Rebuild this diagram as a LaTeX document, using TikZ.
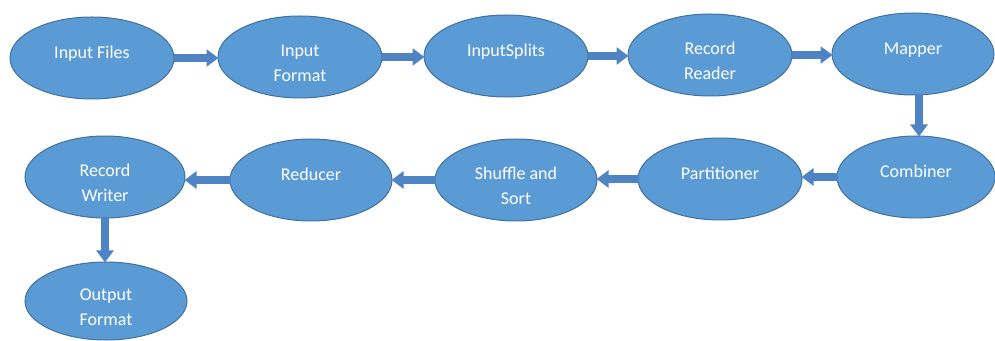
\documentclass[tikz,border=0pt]{standalone}
\usepackage{fontspec}
\setmainfont{Carlito}
\usetikzlibrary{arrows.meta,calc,shapes.geometric}
\definecolor{ellfill}{HTML}{5B9BD5}
\definecolor{elldraw}{HTML}{41719C}
\definecolor{arrfill}{HTML}{4F84C4}
\begin{document}
\begin{tikzpicture}[x=1pt,y=1pt,
  proc/.style={ellipse, fill=ellfill, draw=elldraw, line width=1pt,
     text=white, font=\fontsize{18}{25}\selectfont, align=center,
     inner sep=0pt, minimum width=164pt, minimum height=82pt, text height=49pt},
  oneline/.style={text height=13pt, text depth=11pt},
  flow/.style={draw=arrfill, line width=8.5pt,
     -{Triangle[length=12pt,width=17pt]}, shorten <=-1pt, shorten >=-1pt}
]
\useasboundingbox (0,0) rectangle (995,340);
% row 1
\node[proc,oneline] (infiles) at (92,282) {Input Files};
\node[proc] (informat) at (300,283) {Input\\Format};
\node[proc,oneline] (splits) at (506,284) {InputSplits};
\node[proc] (reader) at (710,285) {Record\\Reader};
\node[proc,oneline,minimum width=162pt] (mapper) at (913,286) {Mapper};
% row 2
\node[proc,oneline,minimum width=158pt] (combiner) at (916,163) {Combiner};
\node[proc,oneline] (partitioner) at (720,161) {Partitioner};
\node[proc,minimum width=162pt] (shuffle) at (516,160) {Shuffle and\\Sort};
\node[proc,oneline,minimum width=162pt] (reducer) at (311,160) {Reducer};
\node[proc,minimum width=160pt] (writer) at (105,163) {Record\\Writer};
% row 3
\node[proc,minimum width=162pt,minimum height=78pt] (output) at (106,39) {Output\\Format};
% connectors
\draw[flow] (infiles.east) -- (informat.west |- infiles.east);
\draw[flow] (informat.east) -- (splits.west |- informat.east);
\draw[flow] (splits.east) -- (reader.west |- splits.east);
\draw[flow] (reader.east) -- (mapper.west |- reader.east);
\draw[flow] ([xshift=6pt]mapper.south) -- ([xshift=6pt]mapper.south |- combiner.north);
\draw[flow] (combiner.west) -- (partitioner.east |- combiner.west);
\draw[flow] (partitioner.west) -- (shuffle.east |- partitioner.west);
\draw[flow] (shuffle.west) -- (reducer.east |- shuffle.west);
\draw[flow] (reducer.west) -- (writer.east |- reducer.west);
\draw[flow] (writer.south) -- (writer.south |- output.north);
\end{tikzpicture}
\end{document}
